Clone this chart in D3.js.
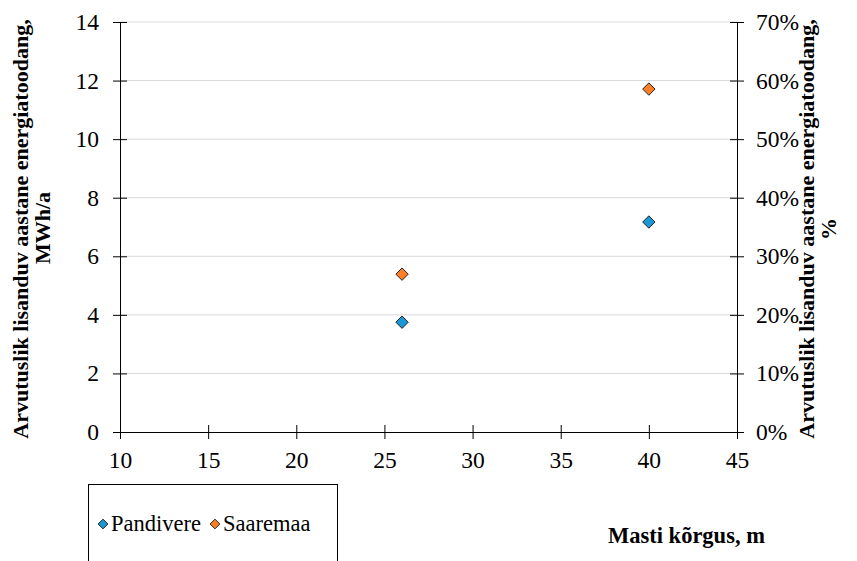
<!DOCTYPE html>
<html><head><meta charset="utf-8">
<script src="https://cdn.jsdelivr.net/npm/d3@7"></script>
<style>body{margin:0;background:#fff}svg{display:block}</style>
</head><body><svg id="c" width="857" height="561"></svg>
<script>
const seriesNames = ["Pandivere", "Saaremaa"];
const seriesColors = ["#1b97d4", "#fb7f29"];
const xValues = [26, 40];
const pandivere = [3.75, 7.17];
const saaremaa = [5.39, 11.71];
const leftTicks = [0, 2, 4, 6, 8, 10, 12, 14];
const rightTicks = [0, 0.1, 0.2, 0.3, 0.4, 0.5, 0.6, 0.7];
const xTicks = [10, 15, 20, 25, 30, 35, 40, 45];
const FONT = "Liberation Serif";

const svg = d3.select("#c");
const L = 120, R = 737, T = 22, B = 432;
const x = d3.scaleLinear().domain([10, 45]).range([L, R]);
const y = d3.scaleLinear().domain([0, 14]).range([B, T]);
const y2 = d3.scaleLinear().domain([0, 0.7]).range([B, T]);

// gridlines
svg.append("g").selectAll("line").data(leftTicks.slice(1)).join("line")
  .attr("x1", L).attr("x2", R).attr("y1", d => y(d)).attr("y2", d => y(d))
  .attr("stroke", "#d9d9d9").attr("stroke-width", 1);

function styleAxis(g){
  g.attr("font-family", FONT).attr("font-size", 23.5);
  g.select(".domain").attr("stroke", "#000").attr("stroke-width", 1);
  g.selectAll(".tick line").attr("stroke", "#000");
  g.selectAll(".tick text").attr("fill", "#000");
}
// left axis
const gl = svg.append("g").attr("transform", `translate(${L},0)`)
  .call(d3.axisLeft(y).tickValues(leftTicks).tickSizeOuter(0).tickSize(7).tickPadding(14));
gl.selectAll(".tick line").attr("x2", 7).attr("x1", -7);
styleAxis(gl);
// right axis
const gr = svg.append("g").attr("transform", `translate(${R},0)`)
  .call(d3.axisRight(y2).tickValues(rightTicks).tickFormat(d3.format(".0%")).tickSizeOuter(0).tickSize(7).tickPadding(12));
gr.selectAll(".tick line").attr("x1", -7).attr("x2", 7);
styleAxis(gr);
// x axis
const gx = svg.append("g").attr("transform", `translate(0,${B})`)
  .call(d3.axisBottom(x).tickValues(xTicks).tickSizeOuter(0).tickSize(7).tickPadding(12));
gx.selectAll(".tick line").attr("y1", -7).attr("y2", 7);
styleAxis(gx);

// points
const diamond = d3.symbol().type(d3.symbolDiamond2).size(98);
[pandivere, saaremaa].forEach((vals, i) => {
  svg.append("g").selectAll("path").data(vals).join("path")
    .attr("d", diamond)
    .attr("transform", (d, j) => `translate(${x(xValues[j])},${y(d)})`)
    .attr("fill", seriesColors[i]).attr("stroke", "#222").attr("stroke-width", 1);
});

// axis titles
function title(tx, ty, txt){
  return svg.append("text").attr("transform", `translate(${tx},${ty}) rotate(-90)`)
    .attr("text-anchor", "middle").attr("font-family", FONT).attr("font-weight", "bold")
    .attr("font-size", 22).attr("fill", "#000").text(txt);
}
title(28, 229, "Arvutuslik lisanduv aastane energiatoodang,");
title(50, 228, "MWh/a");
title(814, 229, "Arvutuslik lisanduv aastane energiatoodang,");
title(836, 229, "%");
svg.append("text").attr("x", 608).attr("y", 543)
  .attr("font-family", FONT).attr("font-weight", "bold").attr("font-size", 22.5)
  .text("Masti kõrgus, m");

// legend
svg.append("rect").attr("x", 88.5).attr("y", 484.5).attr("width", 249).attr("height", 100)
  .attr("fill", "#fff").attr("stroke", "#000");
const lg = svg.append("g");
let lx = 103;
seriesNames.forEach((n, i) => {
  lg.append("path").attr("d", d3.symbol().type(d3.symbolDiamond2).size(60))
    .attr("transform", `translate(${lx},${524})`).attr("fill", seriesColors[i]).attr("stroke", "#222");
  const t = lg.append("text").attr("x", lx + 8).attr("y", 531)
    .attr("font-family", FONT).attr("font-size", 22.5).text(n);
  lx += t.node().getComputedTextLength() + 22;
});
</script></body></html>
